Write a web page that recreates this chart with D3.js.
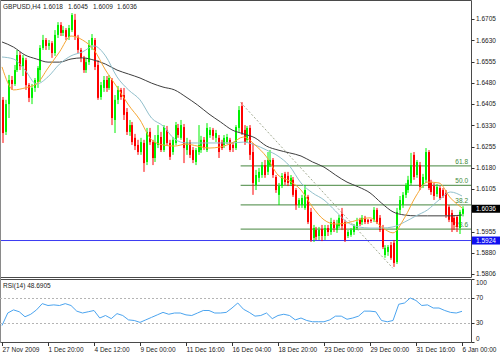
<!DOCTYPE html>
<html>
<head>
<meta charset="utf-8">
<script src="https://cdn.jsdelivr.net/npm/d3@7"></script>
<style>
body{margin:0;background:#fff;}
svg{display:block;}
text{font-family:"Liberation Sans",Arial,sans-serif;}
</style>
</head>
<body>
<div id="chart"></div>
<script>
// GBPUSD H4 bars, 27 Nov 2009 .. 6 Jan 2010
var opens = [1.6420,1.6307,1.6405,1.6490,1.6476,1.6525,1.6578,1.6539,1.6560,1.6472,1.6427,1.6462,1.6483,1.6525,1.6603,1.6631,1.6610,1.6620,1.6585,1.6649,
1.6684,1.6656,1.6666,1.6642,1.6666,1.6702,1.6642,1.6596,1.6568,1.6525,1.6553,1.6613,1.6631,1.6543,1.6430,1.6462,1.6490,1.6462,1.6490,1.6349,
1.6420,1.6455,1.6437,1.6377,1.6307,1.6331,1.6286,1.6261,1.6236,1.6268,1.6201,1.6307,1.6271,1.6215,1.6261,1.6289,1.6243,1.6314,1.6268,1.6236,
1.6268,1.6321,1.6286,1.6324,1.6243,1.6271,1.6243,1.6201,1.6236,1.6243,1.6279,1.6243,1.6296,1.6314,1.6286,1.6286,1.6271,1.6261,1.6271,1.6279,
1.6261,1.6250,1.6321,1.6398,1.6314,1.6279,1.6321,1.6236,1.6120,1.6145,1.6155,1.6190,1.6166,1.6190,1.6208,1.6148,1.6085,1.6116,1.6159,1.6152,
1.6123,1.6138,1.6102,1.6049,1.6049,1.6039,1.6078,1.6025,1.5933,1.5961,1.5940,1.5965,1.5940,1.5968,1.5954,1.5989,1.5961,1.5975,1.6018,1.5989,
1.5940,1.5944,1.5954,1.5968,1.5997,1.5989,1.6004,1.5997,1.5997,1.5997,1.6032,1.6004,1.5968,1.5873,1.5884,1.5908,1.5916,1.5848,1.6032,1.6049,
1.6085,1.6102,1.6127,1.6226,1.6155,1.6190,1.6120,1.6138,1.6236,1.6130,1.6116,1.6088,1.6109,1.6102,1.6092,1.6042,1.6021,1.6004,1.6007,1.5968,
1.6018];
var highs = [1.6430,1.6420,1.6508,1.6504,1.6543,1.6596,1.6589,1.6578,1.6568,1.6479,1.6476,1.6497,1.6539,1.6613,1.6649,1.6638,1.6631,1.6627,1.6666,1.6694,
1.6694,1.6680,1.6673,1.6684,1.6726,1.6723,1.6649,1.6603,1.6575,1.6568,1.6631,1.6652,1.6638,1.6560,1.6483,1.6504,1.6504,1.6508,1.6497,1.6437,
1.6469,1.6462,1.6462,1.6391,1.6349,1.6342,1.6300,1.6279,1.6286,1.6279,1.6321,1.6321,1.6279,1.6296,1.6331,1.6307,1.6331,1.6328,1.6279,1.6289,
1.6342,1.6335,1.6349,1.6335,1.6286,1.6279,1.6254,1.6250,1.6331,1.6293,1.6289,1.6338,1.6324,1.6321,1.6314,1.6296,1.6279,1.6296,1.6300,1.6286,
1.6271,1.6331,1.6398,1.6412,1.6331,1.6328,1.6331,1.6268,1.6173,1.6180,1.6201,1.6208,1.6236,1.6243,1.6215,1.6155,1.6127,1.6162,1.6166,1.6166,
1.6155,1.6148,1.6109,1.6074,1.6085,1.6120,1.6085,1.6039,1.5979,1.5972,1.5972,1.5979,1.5979,1.5979,1.6004,1.5997,1.5997,1.6014,1.6039,1.5997,
1.5961,1.5968,1.5982,1.6004,1.6004,1.6014,1.6011,1.6000,1.6000,1.6042,1.6039,1.6014,1.5979,1.5908,1.5908,1.5919,1.5926,1.6039,1.6081,1.6095,
1.6127,1.6152,1.6233,1.6236,1.6208,1.6201,1.6159,1.6250,1.6243,1.6138,1.6127,1.6123,1.6116,1.6109,1.6102,1.6049,1.6032,1.6014,1.6014,1.6032,
1.6045];
var lows = [1.6268,1.6296,1.6356,1.6455,1.6469,1.6518,1.6525,1.6504,1.6455,1.6412,1.6405,1.6448,1.6462,1.6483,1.6596,1.6596,1.6596,1.6568,1.6575,1.6638,
1.6645,1.6645,1.6631,1.6631,1.6659,1.6631,1.6585,1.6553,1.6515,1.6515,1.6543,1.6596,1.6525,1.6420,1.6420,1.6448,1.6448,1.6455,1.6331,1.6303,
1.6405,1.6420,1.6349,1.6296,1.6293,1.6261,1.6243,1.6226,1.6226,1.6166,1.6190,1.6261,1.6190,1.6201,1.6250,1.6236,1.6236,1.6261,1.6208,1.6226,
1.6261,1.6286,1.6279,1.6197,1.6226,1.6215,1.6197,1.6190,1.6226,1.6233,1.6243,1.6236,1.6286,1.6279,1.6271,1.6215,1.6243,1.6250,1.6264,1.6236,
1.6236,1.6243,1.6307,1.6296,1.6261,1.6268,1.6208,1.6085,1.6102,1.6130,1.6145,1.6145,1.6155,1.6183,1.6145,1.6092,1.6049,1.6109,1.6120,1.6116,
1.6116,1.6078,1.6032,1.6039,1.6039,1.6032,1.5982,1.5919,1.5919,1.5926,1.5926,1.5922,1.5926,1.5940,1.5944,1.5954,1.5951,1.5968,1.5961,1.5919,
1.5933,1.5937,1.5944,1.5961,1.5975,1.5979,1.5982,1.5982,1.5986,1.5989,1.5982,1.5954,1.5894,1.5863,1.5870,1.5856,1.5831,1.5841,1.6018,1.6039,
1.6074,1.6092,1.6120,1.6138,1.6145,1.6102,1.6109,1.6127,1.6102,1.6085,1.6067,1.6078,1.6067,1.6074,1.6004,1.5989,1.5954,1.5961,1.5954,1.5947,
1.6009];
var closes = [1.6303,1.6405,1.6490,1.6476,1.6525,1.6578,1.6539,1.6568,1.6472,1.6427,1.6462,1.6490,1.6532,1.6603,1.6631,1.6610,1.6620,1.6585,1.6649,1.6684,
1.6656,1.6666,1.6642,1.6673,1.6719,1.6642,1.6596,1.6568,1.6525,1.6553,1.6613,1.6638,1.6536,1.6427,1.6472,1.6490,1.6462,1.6497,1.6356,1.6420,
1.6455,1.6430,1.6367,1.6307,1.6331,1.6271,1.6257,1.6236,1.6271,1.6197,1.6307,1.6271,1.6215,1.6271,1.6296,1.6243,1.6324,1.6268,1.6219,1.6279,
1.6331,1.6296,1.6331,1.6250,1.6271,1.6226,1.6208,1.6243,1.6261,1.6279,1.6250,1.6321,1.6314,1.6293,1.6303,1.6236,1.6250,1.6286,1.6289,1.6243,
1.6250,1.6324,1.6384,1.6303,1.6271,1.6321,1.6226,1.6127,1.6155,1.6166,1.6190,1.6155,1.6208,1.6208,1.6155,1.6102,1.6116,1.6152,1.6130,1.6127,
1.6145,1.6085,1.6049,1.6067,1.6074,1.6102,1.5989,1.5926,1.5968,1.5937,1.5961,1.5940,1.5968,1.5954,1.5989,1.5968,1.5982,1.6004,1.5975,1.5926,
1.5954,1.5961,1.5975,1.5989,1.5982,1.6004,1.5989,1.5989,1.5993,1.6032,1.5989,1.5961,1.5901,1.5898,1.5901,1.5863,1.5845,1.6025,1.6067,1.6085,
1.6120,1.6138,1.6190,1.6148,1.6201,1.6113,1.6148,1.6236,1.6109,1.6095,1.6081,1.6113,1.6074,1.6081,1.6014,1.5997,1.5989,1.5979,1.5972,1.6025,
1.6036];

// moving averages, read every 4 bars
var maStep = 4;
var maFast = [1.6536,1.6455,1.6462,1.6476,1.6532,1.6589,1.6645,1.6631,1.6596,1.6525,1.6465,1.6402,1.6349,1.6279,1.6261,1.6257,1.6264,1.6257,1.6250,1.6254,
1.6268,1.6289,1.6261,1.6219,1.6155,1.6134,1.6102,1.6042,1.5997,1.5982,1.5986,1.5997,1.6004,1.5972,1.5951,1.6004,1.6081,1.6130,1.6127,1.6074,1.6039];
var maMid = [1.6571,1.6564,1.6525,1.6476,1.6501,1.6546,1.6575,1.6589,1.6610,1.6575,1.6501,1.6455,1.6420,1.6356,1.6328,1.6282,1.6268,1.6268,1.6268,1.6268,
1.6268,1.6271,1.6261,1.6243,1.6222,1.6187,1.6127,1.6092,1.6067,1.6028,1.5989,1.5972,1.5968,1.5968,1.5972,1.5989,1.6011,1.6032,1.6067,1.6095,1.6081];
var maSlow = [1.6624,1.6606,1.6578,1.6564,1.6553,1.6553,1.6564,1.6568,1.6560,1.6546,1.6525,1.6511,1.6497,1.6479,1.6465,1.6455,1.6430,1.6402,1.6370,1.6342,
1.6314,1.6300,1.6286,1.6257,1.6243,1.6233,1.6222,1.6201,1.6183,1.6155,1.6130,1.6113,1.6092,1.6056,1.6025,1.6014,1.6011,1.6011,1.6011,1.6011,1.6014];

// RSI(14), read every 2 bars
var rsiStep = 2;
var rsiValues = [26,46,51,48,40,44,51,61,58,59,58,61,58,49,46,48,50,38,42,37,
45,42,35,34,31,35,39,43,47,44,46,46,43,42,46,50,50,46,46,47,
54,62,52,47,41,42,46,37,42,44,42,35,38,34,32,32,32,35,41,41,
36,38,41,49,49,48,34,32,34,60,62,70,66,58,59,54,54,50,47,46,48.69];

var priceTicks = [1.6705,1.6630,1.6555,1.6480,1.6405,1.6330,1.6255,1.6180,1.6105,1.6030,1.5955,1.5880,1.5806];
var rsiTicks = [100,70,30,0];
var rsiLevels = [70,30];
var timeLabels = ["27 Nov 2009","1 Dec 20:00","4 Dec 12:00","9 Dec 00:00","11 Dec 16:00","16 Dec 04:00","18 Dec 20:00","23 Dec 00:00","29 Dec 00:00","31 Dec 16:00","6 Jan 00:00"];
var barsPerLabel = 16;

var hLinePrice = 1.5924;
var fibHigh = 1.6411, fibLow = 1.5826, fibFromBar = 83, fibToBar = 136;
var fibLevels = [23.6, 38.2, 50.0, 61.8];
var symbolText = "GBPUSD,H4";
var rsiText = "RSI(14) 48.6905";

var W = 500, H = 354, R = 471.5;
var svg = d3.select('#chart').append('svg').attr('width', W).attr('height', H);
svg.append('rect').attr('width', W).attr('height', H).attr('fill', '#fff');

var n = closes.length;
var x = d3.scaleLinear().domain([0, 160]).range([2, 462]);
var y = d3.scaleLinear().domain([1.5806, 1.6705]).range([274, 19]);
var yr = d3.scaleLinear().domain([0, 100]).range([341.75, 279.25]);

svg.append('clipPath').attr('id', 'mainClip').append('rect')
	.attr('x', 0).attr('y', 1).attr('width', R).attr('height', 276);
svg.append('clipPath').attr('id', 'rsiClip').append('rect')
	.attr('x', 0).attr('y', 280).attr('width', R).attr('height', 62);

var main = svg.append('g').attr('clip-path', 'url(#mainClip)');

//fibonacci levels
var fibG = main.append('g');
fibLevels.forEach(function(r) {
	var p = fibLow + r / 100 * (fibHigh - fibLow);
	fibG.append('line')
		.attr('x1', x(fibFromBar)).attr('x2', R)
		.attr('y1', y(p)).attr('y2', y(p))
		.attr('stroke', '#6a9e64').attr('stroke-width', 1.3);
	fibG.append('text')
		.attr('x', 468).attr('y', y(p) - 2)
		.attr('text-anchor', 'end')
		.attr('font-size', '6.5px').attr('fill', '#3c8a36')
		.text(r.toFixed(1));
});
fibG.append('line')
	.attr('x1', x(fibFromBar)).attr('y1', y(fibHigh))
	.attr('x2', x(fibToBar)).attr('y2', y(fibLow))
	.attr('stroke', '#a3ab93').attr('stroke-dasharray', '2,2');

//blue horizontal line
main.append('line')
	.attr('x1', 0).attr('x2', R)
	.attr('y1', y(hLinePrice)).attr('y2', y(hLinePrice))
	.attr('stroke', '#3a3af2').attr('stroke-width', 1);

//candles
var idx = d3.range(n);
var cg = main.append('g');
function col(i) { return closes[i] >= opens[i] ? '#00f000' : '#ff0000'; }
cg.selectAll('.wick').data(idx).enter().append('line')
	.attr('x1', function(i) { return Math.round(x(i)) + 1; })
	.attr('x2', function(i) { return Math.round(x(i)) + 1; })
	.attr('y1', function(i) { return y(highs[i]); })
	.attr('y2', function(i) { return y(lows[i]); })
	.attr('stroke', col).attr('stroke-width', 1);
cg.selectAll('.body').data(idx).enter().append('rect')
	.attr('x', function(i) { return Math.round(x(i)); })
	.attr('width', 2)
	.attr('y', function(i) { return y(Math.max(opens[i], closes[i])); })
	.attr('height', function(i) { return Math.max(1, Math.abs(y(opens[i]) - y(closes[i]))); })
	.attr('fill', col);

//moving averages
function maLine(vals, color) {
	var line = d3.line()
		.x(function(d, k) { return x(k * maStep); })
		.y(function(d) { return y(d); })
		.curve(d3.curveMonotoneX);
	main.append('path').datum(vals)
		.attr('d', line).attr('fill', 'none')
		.attr('stroke', color).attr('stroke-width', 1);
}
maLine(maSlow, '#3e3e3e');
maLine(maMid, '#92c0cc');
maLine(maFast, '#f6a634');

//panel borders
var bd = svg.append('g').attr('stroke', '#4a4a4a').attr('fill', 'none');
bd.append('path').attr('d', 'M0.5,0.5H' + R + 'V277.5H0.5').attr('stroke-width', 1);
bd.append('path').attr('d', 'M0.5,279.5H' + R + 'V342.5H0.5').attr('stroke-width', 1);
bd.append('line').attr('x1', 0.5).attr('x2', 0.5).attr('y1', 0).attr('y2', 343).attr('stroke', '#8a8a8a');

//price axis, labels hidden under the price boxes are skipped like the terminal does
var boxPrices = [hLinePrice, closes[n - 1]];
var shownTicks = priceTicks.filter(function(p) {
	return boxPrices.every(function(b) { return Math.abs(y(p) - y(b)) > 8; });
});
var pa = svg.append('g');
pa.selectAll('line').data(priceTicks).enter().append('line')
	.attr('x1', R).attr('x2', R + 3)
	.attr('y1', function(d) { return Math.round(y(d)) + 0.5; })
	.attr('y2', function(d) { return Math.round(y(d)) + 0.5; })
	.attr('stroke', '#333');
pa.selectAll('text').data(shownTicks).enter().append('text')
	.attr('x', 476).attr('y', function(d) { return y(d) + 2.3; })
	.attr('font-size', '6.5px').attr('fill', '#222')
	.text(function(d) { return d.toFixed(4); });

//price boxes
function priceBox(p, bg) {
	svg.append('rect').attr('x', 472).attr('y', y(p) - 4).attr('width', 28).attr('height', 8).attr('fill', bg);
	svg.append('text').attr('x', 476).attr('y', y(p) + 2.3)
		.attr('font-size', '6.5px').attr('fill', '#fff').text(p.toFixed(4));
}
priceBox(hLinePrice, '#1010f0');
priceBox(closes[n - 1], '#000');

//title
var title = [symbolText, opens[n - 1].toFixed(4), highs[n - 1].toFixed(4), lows[n - 1].toFixed(4), closes[n - 1].toFixed(4)];
var titleX = [3, 43, 68, 93, 117];
svg.selectAll('.title').data(title).enter().append('text')
	.attr('x', function(d, k) { return titleX[k]; }).attr('y', 9)
	.attr('font-size', '6.5px').attr('fill', '#222')
	.text(function(d) { return d; });

//rsi panel
var rg = svg.append('g').attr('clip-path', 'url(#rsiClip)');
rg.selectAll('.lvl').data(rsiLevels).enter().append('line')
	.attr('x1', 0).attr('x2', R)
	.attr('y1', function(d) { return Math.round(yr(d)) + 0.5; })
	.attr('y2', function(d) { return Math.round(yr(d)) + 0.5; })
	.attr('stroke', '#b4b4b4').attr('stroke-dasharray', '2,2');
var rline = d3.line()
	.x(function(d, k) { return x(k * rsiStep); })
	.y(function(d) { return yr(d); });
rg.append('path').datum(rsiValues).attr('d', rline)
	.attr('fill', 'none').attr('stroke', '#4ba4ef').attr('stroke-width', 1);
svg.append('text').attr('x', 3).attr('y', 287.5)
	.attr('font-size', '6.5px').attr('fill', '#222').text(rsiText);

svg.selectAll('.rt').data(rsiTicks).enter().append('line')
	.attr('x1', R).attr('x2', R + 3)
	.attr('y1', function(d) { return Math.round(yr(d)) + 0.5; })
	.attr('y2', function(d) { return Math.round(yr(d)) + 0.5; })
	.attr('stroke', '#333');
svg.selectAll('.rl').data(rsiTicks).enter().append('text')
	.attr('x', 476)
	.attr('y', function(d) { return Math.min(341, Math.max(285, yr(d) + 2.3)); })
	.attr('font-size', '6.5px').attr('fill', '#222')
	.text(function(d) { return d; });

//time axis
var ta = svg.append('g');
ta.selectAll('line').data(timeLabels).enter().append('line')
	.attr('x1', function(d, k) { return Math.round(x(k * barsPerLabel)) + 0.5; })
	.attr('x2', function(d, k) { return Math.round(x(k * barsPerLabel)) + 0.5; })
	.attr('y1', 342.5).attr('y2', 346)
	.attr('stroke', '#333');
ta.selectAll('text').data(timeLabels).enter().append('text')
	.attr('x', function(d, k) { return x(k * barsPerLabel) + 0.5; })
	.attr('y', 351.5)
	.attr('font-size', '6.5px').attr('fill', '#222')
	.text(function(d) { return d; });
</script>
</body>
</html>
